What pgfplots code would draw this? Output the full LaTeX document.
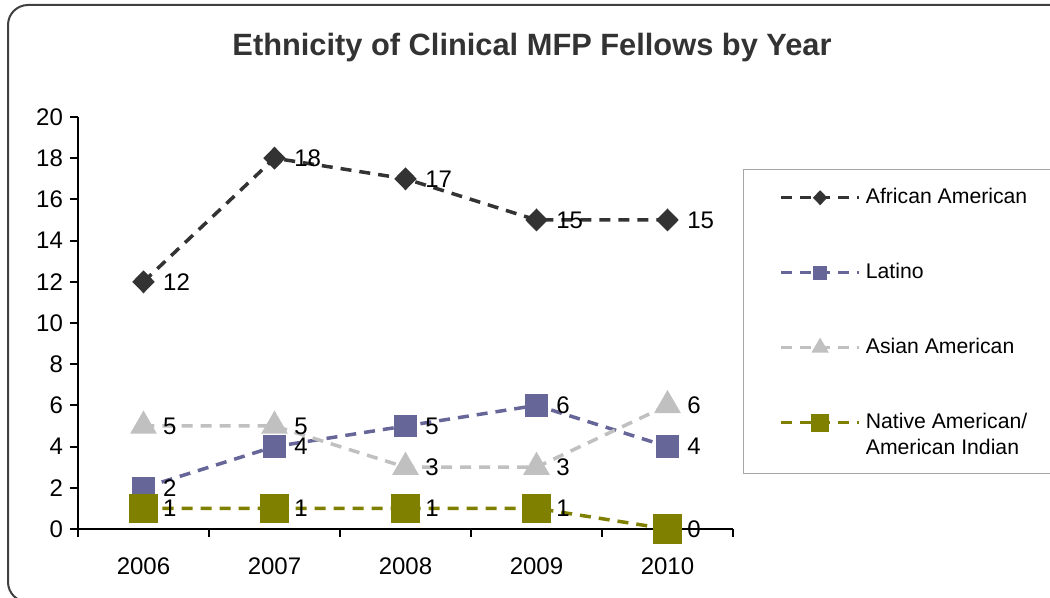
\documentclass[border=0pt]{standalone}
\usepackage{pgfplots}
\pgfplotsset{compat=1.18}
\usepackage{fontspec}
\setmainfont{Liberation Sans}
\definecolor{afam}{HTML}{333333}
\definecolor{latino}{HTML}{666699}
\definecolor{asian}{HTML}{C0C0C0}
\definecolor{native}{HTML}{808000}
\definecolor{frame}{HTML}{404040}
\begin{document}
\begin{tikzpicture}
\useasboundingbox (0,0) rectangle (525pt,299pt);
\clip (0,0) rectangle (525pt,299pt);
% outer rounded frame
\draw[frame, line width=1pt, rounded corners=10pt] (4pt,-2pt) rectangle (540pt,296.5pt);
% title
\node[font=\fontsize{15.4}{18}\selectfont\bfseries, text=afam] at (266pt,275pt)
  {Ethnicity of Clinical MFP Fellows by Year};
% legend frame
\draw[gray!70, line width=0.5pt] (371.5pt,62pt) rectangle (540pt,214pt);
\begin{axis}[
    at={(39pt,34.5pt)}, anchor=south west,
    scale only axis, width=327.5pt, height=206pt,
    axis x line*=bottom, axis y line*=left,
    axis line style={line width=1pt, -},
    xmin=-0.5, xmax=4.5, ymin=0, ymax=20,
    xtick={0,1,2,3,4},
    xticklabels={2006,2007,2008,2009,2010},
    minor xtick={-0.5,0.5,1.5,2.5,3.5,4.5},
    ytick={0,2,...,20},
    tick align=outside,
    major tick length=4pt, minor tick length=4pt,
    major x tick style={draw=none},
    every tick/.style={black, line width=1pt},
    tick label style={font=\fontsize{12}{14}\selectfont},
    xticklabel style={yshift=-7pt},
    /pgf/number format/assume math mode=true,
    clip=false,
    every axis plot/.append style={line width=1.75pt, dash pattern=on 5.5pt off 4pt},
    nodes near coords,
    nodes near coords style={anchor=west, inner sep=0pt, xshift=9pt,
      font=\fontsize{12}{14}\selectfont, text=black},
    legend image code/.code={
      \draw[mark repeat=2, mark phase=2, #1, every mark/.append style={scale=0.55}]
        plot coordinates {(0pt,0pt) (19.5pt,0pt) (39pt,0pt)};
    },
    legend style={
      at={(axis description cs:1.0702,0.837)}, anchor=north west,
      draw=none, fill=none, inner sep=0pt,
      row sep=24.3pt, column sep=0.5pt,
      font=\fontsize{10.6}{13}\selectfont,
      cells={anchor=west},
    },
]
\addplot[afam, mark=diamond*, mark size=4.5pt,
  mark options={solid, xscale=1.3, fill=afam}]
  coordinates {(0,12) (1,18) (2,17) (3,15) (4,15)};
\addlegendentry{African American}
\addplot[latino, mark=square*, mark size=4.75pt,
  mark options={solid, fill=latino}]
  coordinates {(0,2) (1,4) (2,5) (3,6) (4,4)};
\addlegendentry{Latino}
\addplot[asian, mark=triangle*, mark size=6pt,
  mark options={solid, fill=asian}]
  coordinates {(0,5) (1,5) (2,3) (3,3) (4,6)};
\addlegendentry{Asian American}
\addplot[native, mark=square*, mark size=6.5pt,
  mark options={solid, fill=native}]
  coordinates {(0,1) (1,1) (2,1) (3,1) (4,0)};
\addlegendentry{\parbox[t]{4cm}{Native American/\\American Indian}}
\end{axis}
\end{tikzpicture}
\end{document}
